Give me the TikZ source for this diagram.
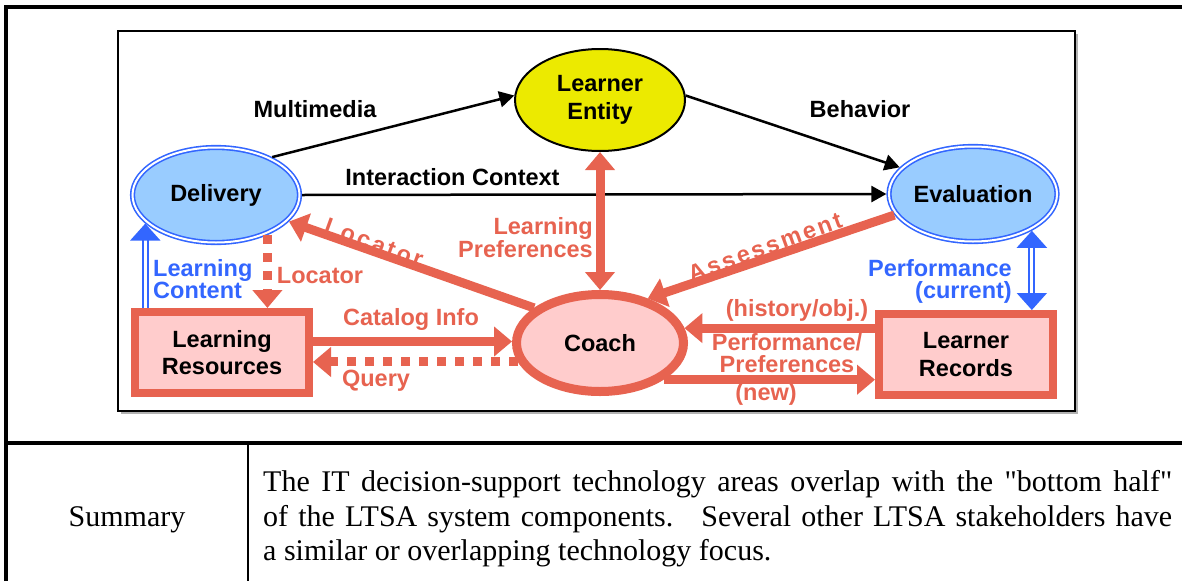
\documentclass[tikz,border=0pt]{standalone}
\usepackage{fontspec}
\setmainfont{Liberation Serif}
\setsansfont{Liberation Sans}
\newfontfamily\summaryfont{Liberation Serif}
\usetikzlibrary{arrows.meta,shapes.geometric,positioning}
\definecolor{salmon}{RGB}{231,99,80}
\definecolor{pinkfill}{RGB}{255,204,204}
\definecolor{ltsablue}{RGB}{51,102,255}
\definecolor{skyfill}{RGB}{153,204,255}
\definecolor{lemon}{RGB}{236,234,0}

\tikzset{
  bigtip/.tip={Triangle[width=29pt,length=18pt]},
  blktip/.tip={Triangle[width=16pt,length=15pt]},
  bluetip/.tip={Triangle[width=30pt,length=17pt]},
  boxfont/.style={font=\sffamily\bfseries\fontsize{23.5}{27.5}\selectfont},
  lbl/.style={font=\sffamily\bfseries\fontsize{23.5}{22}\selectfont, align=center, inner sep=0pt},
  proc/.style={ellipse, draw=ltsablue, line width=1.6pt, double=white, double distance=2pt,
    fill=skyfill, minimum width=167pt, minimum height=95pt, inner sep=0pt, outer sep=2.6pt, boxfont},
  store/.style={rectangle, draw=salmon, line width=8pt, fill=pinkfill, minimum width=174pt,
    minimum height=81pt, inner sep=0pt, align=center, boxfont},
  blk/.style={line width=2.5pt, -blktip},
  fat/.style={salmon, line width=9pt, -bigtip},
  fatdash/.style={fat, dash pattern=on 9pt off 9pt},
  dbl/.style={ltsablue, line width=2pt, double=white, double distance=3pt, -bluetip}
}

\begin{document}
\begin{tikzpicture}[x=1pt,y=-1pt]
  \useasboundingbox (0,0) rectangle (1182,581);
  % table rules
  \draw[line width=4pt] (6,581) -- (6,7) -- (1182,7);
  \draw[line width=4pt] (6,443) -- (1182,443);
  \draw[line width=1.5pt] (248,443) -- (248,581);
  % diagram frame
  \draw[gray!60, line width=2pt] (121,413) -- (1077,413) -- (1077,34);
  \draw[line width=1.5pt] (118,31) rectangle (1075,411);

  % components
  \node[ellipse, draw, line width=2pt, fill=lemon, minimum width=170pt, minimum height=102pt,
    inner sep=0pt, align=center, boxfont] (ent) at (600,100) {Learner\\Entity};
  \node[proc] (del) at (216,195) {Delivery};
  \node[proc] (eval) at (973,194) {Evaluation};
  \node[ellipse, draw=salmon, line width=9pt, fill=pinkfill, minimum width=167pt,
    minimum height=97pt, inner sep=0pt, boxfont] (coach) at (600,343) {Coach};
  \node[store] (res) at (222,352.5) {Learning\\Resources};
  \node[store] (rec) at (966,354.5) {Learner\\Records};

  % black flows
  \draw[blk] (del.34) -- (ent.177);
  \draw[blk] (ent.3) -- (eval.160);
  \draw[blk] (del.east) -- (eval.west);
  \node[lbl] (mmlbl) at (315,109) {Multimedia};
  \node[lbl] (behlbl) at (860,109) {Behavior};
  \node[lbl] (iclbl) at (452.5,177) {Interaction Context};

  % coach flows
  \draw[fat, bigtip-bigtip] (ent.south) -- (coach.north);
  \draw[fat] (coach.152) -- (del.-20);
  \draw[fat] (eval.195) -- (coach.43);
  \draw[fatdash] (del.-38) -- (del.-38 |- res.north);
  \draw[fat] ([yshift=11pt]res.east) -- ([yshift=11pt]res.east -| coach.west);
  \draw[fatdash] (coach.193) -- (coach.193 -| res.east);
  \draw[fat] (coach.10 -| rec.west) -- (coach.10);
  \draw[fat] (coach.-30) -- (coach.-30 -| rec.west);
  \node[lbl, text=salmon, anchor=east, align=right] (preflbl) at (593,238) {Learning\\Preferences};
  \node[lbl, text=salmon, rotate=-20] (loclbl) at (374,243) {\addfontfeature{LetterSpace=12}Locator};
  \node[lbl, text=salmon, rotate=20] (asslbl) at (765,247) {\addfontfeature{LetterSpace=11}Assessment};
  \node[lbl, text=salmon] (loc2lbl) at (320,276) {Locator};
  \node[lbl, text=salmon] (catlbl) at (411,319) {Catalog Info};
  \node[lbl, text=salmon] (qlbl) at (376,381) {Query};
  \node[lbl, text=salmon] (histlbl) at (797,310) {(history/obj.)};
  \node[lbl, text=salmon] (pplbl) at (787,353) {Performance/\\Preferences};
  \node[lbl, text=salmon] (newlbl) at (766,394) {(new)};

  % blue flows
  \draw[dbl] (del.202.5 |- res.north) -- (del.202.5);
  \draw[dbl, bluetip-bluetip] (eval.-32.5) -- (eval.-32.5 |- rec.north);
  \node[lbl, text=ltsablue, anchor=west, align=left] (contlbl) at (153,279) {Learning\\Content};
  \node[lbl, text=ltsablue, anchor=east, align=right] (perflbl) at (1012,281) {Performance\\(current)};

  % summary row
  \node[font=\summaryfont\fontsize{30}{34.5}\selectfont] (sumlbl) at (127,520) {Summary};
  \node[anchor=west, inner sep=0pt, text width=909pt, align=justify,
    font=\summaryfont\fontsize{30}{34.5}\selectfont] (sumtext) at (263,519)
    {The IT decision-support technology areas overlap with the "bottom half"\linebreak
     of the LTSA system components.~ Several other LTSA stakeholders have\linebreak
     a similar or overlapping technology focus.};
\end{tikzpicture}
\end{document}
